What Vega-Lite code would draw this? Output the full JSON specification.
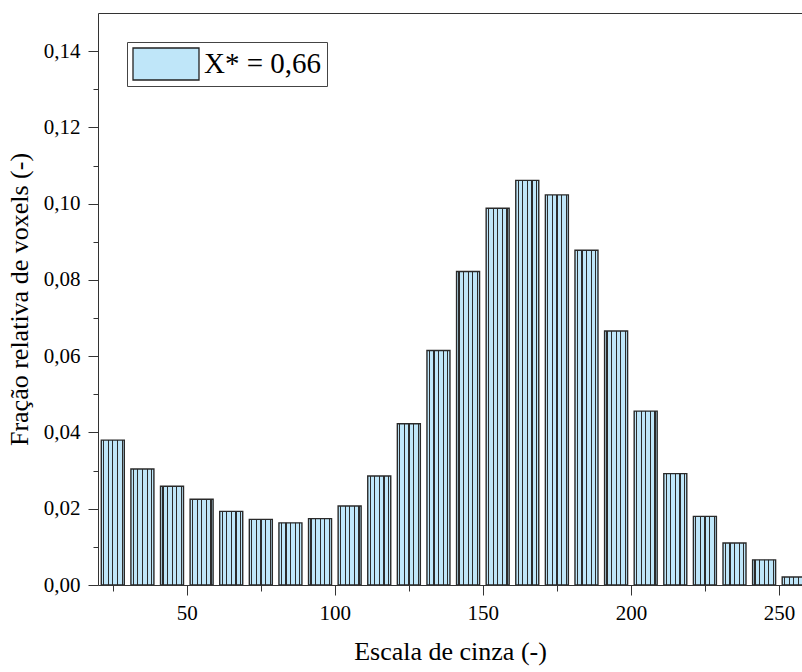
{
  "$schema": "https://vega.github.io/schema/vega-lite/v6.json",
  "autosize": {"type": "none"},
  "padding": {"left": 98, "top": 13, "right": 0, "bottom": 87},
  "width": 704,
  "height": 572,
  "background": "white",
  "config": {
    "view": {"stroke": null},
    "font": "Liberation Serif",
    "scale": {"continuousPadding": 0},
    "axis": {
      "labelFont": "Liberation Serif",
      "titleFont": "Liberation Serif",
      "labelColor": "#000",
      "titleColor": "#000",
      "titleFontWeight": "normal",
      "domainColor": "#333",
      "tickColor": "#333",
      "grid": false
    },
    "legend": {"labelFont": "Liberation Serif"}
  },
  "data": {
    "values": [
      {"cinza": 25, "fracao": 0.0380, "serie": "X* = 0,66"},
      {"cinza": 35, "fracao": 0.0304, "serie": "X* = 0,66"},
      {"cinza": 45, "fracao": 0.0259, "serie": "X* = 0,66"},
      {"cinza": 55, "fracao": 0.0225, "serie": "X* = 0,66"},
      {"cinza": 65, "fracao": 0.0193, "serie": "X* = 0,66"},
      {"cinza": 75, "fracao": 0.0172, "serie": "X* = 0,66"},
      {"cinza": 85, "fracao": 0.0163, "serie": "X* = 0,66"},
      {"cinza": 95, "fracao": 0.0174, "serie": "X* = 0,66"},
      {"cinza": 105, "fracao": 0.0207, "serie": "X* = 0,66"},
      {"cinza": 115, "fracao": 0.0286, "serie": "X* = 0,66"},
      {"cinza": 125, "fracao": 0.0423, "serie": "X* = 0,66"},
      {"cinza": 135, "fracao": 0.0615, "serie": "X* = 0,66"},
      {"cinza": 145, "fracao": 0.0822, "serie": "X* = 0,66"},
      {"cinza": 155, "fracao": 0.0988, "serie": "X* = 0,66"},
      {"cinza": 165, "fracao": 0.1061, "serie": "X* = 0,66"},
      {"cinza": 175, "fracao": 0.1023, "serie": "X* = 0,66"},
      {"cinza": 185, "fracao": 0.0878, "serie": "X* = 0,66"},
      {"cinza": 195, "fracao": 0.0666, "serie": "X* = 0,66"},
      {"cinza": 205, "fracao": 0.0456, "serie": "X* = 0,66"},
      {"cinza": 215, "fracao": 0.0292, "serie": "X* = 0,66"},
      {"cinza": 225, "fracao": 0.0180, "serie": "X* = 0,66"},
      {"cinza": 235, "fracao": 0.0110, "serie": "X* = 0,66"},
      {"cinza": 245, "fracao": 0.0066, "serie": "X* = 0,66"},
      {"cinza": 255, "fracao": 0.0021, "serie": "X* = 0,66"}
    ]
  },
  "resolve": {"axis": {"x": "independent"}},
  "layer": [
    {
      "mark": {
        "type": "bar", "size": 23, "stroke": "#2a2a2a", "strokeWidth": 1.4, "clip": true,
        "fill": {"gradient": "linear", "x1": 0, "y1": 0, "x2": 1, "y2": 0, "stops": [
          {"offset": 0, "color": "#bfe6f9"},
          {"offset": 0.08, "color": "#bfe6f9"}, {"offset": 0.08, "color": "#2b2b2b"},
          {"offset": 0.13, "color": "#2b2b2b"}, {"offset": 0.13, "color": "#bfe6f9"},
          {"offset": 0.28, "color": "#bfe6f9"}, {"offset": 0.28, "color": "#2b2b2b"},
          {"offset": 0.33, "color": "#2b2b2b"}, {"offset": 0.33, "color": "#bfe6f9"},
          {"offset": 0.48, "color": "#bfe6f9"}, {"offset": 0.48, "color": "#2b2b2b"},
          {"offset": 0.53, "color": "#2b2b2b"}, {"offset": 0.53, "color": "#bfe6f9"},
          {"offset": 0.68, "color": "#bfe6f9"}, {"offset": 0.68, "color": "#2b2b2b"},
          {"offset": 0.73, "color": "#2b2b2b"}, {"offset": 0.73, "color": "#bfe6f9"},
          {"offset": 0.88, "color": "#bfe6f9"}, {"offset": 0.88, "color": "#2b2b2b"},
          {"offset": 0.93, "color": "#2b2b2b"}, {"offset": 0.93, "color": "#bfe6f9"},
          {"offset": 1, "color": "#bfe6f9"}
        ]}
      },
      "encoding": {
        "x": {
          "field": "cinza", "type": "quantitative",
          "scale": {"domain": [20, 257.8], "nice": false, "zero": false, "padding": 0},
          "axis": {
            "orient": "bottom",
            "values": [25, 50, 75, 100, 125, 150, 175, 200, 225, 250],
            "labelExpr": "datum.value % 50 === 0 ? format(datum.value, 'd') : ''",
            "labelOverlap": false,
            "labelFlush": false,
            "labelFont": "Liberation Serif",
            "labelFontSize": 21,
            "labelPadding": 7,
            "tickSize": {"condition": {"test": "datum.value % 50 === 0", "value": 10}, "value": 6},
            "title": "Escala de cinza (-)",
            "titleFont": "Liberation Serif",
            "titleFontSize": 26,
            "titlePadding": 15
          }
        },
        "y": {
          "field": "fracao", "type": "quantitative",
          "scale": {"domain": [0, 0.15], "nice": false},
          "axis": {
            "values": [0, 0.01, 0.02, 0.03, 0.04, 0.05, 0.06, 0.07, 0.08, 0.09, 0.1, 0.11, 0.12, 0.13, 0.14],
            "labelExpr": "round(datum.value * 100) % 2 === 0 ? replace(format(datum.value, '.2f'), '.', ',') : ''",
            "labelOverlap": false,
            "labelFlush": false,
            "labelFont": "Liberation Serif",
            "labelFontSize": 21,
            "labelPadding": 8,
            "tickSize": {"condition": {"test": "round(datum.value * 100) % 2 === 0", "value": 10}, "value": 5},
            "title": "Fração relativa de voxels (-)",
            "titleFont": "Liberation Serif",
            "titleFontSize": 26,
            "titlePadding": 11
          }
        },
        "color": {
          "field": "serie", "type": "nominal",
          "scale": {"range": ["#bfe6f9"]},
          "legend": {
            "title": null,
            "orient": "none",
            "legendX": 29,
            "legendY": 29,
            "symbolType": "M-1,-0.485H1V0.485H-1Z",
            "symbolSize": 4356,
            "symbolStrokeColor": "#222",
            "symbolStrokeWidth": 1.3,
            "symbolOpacity": 1,
            "labelFont": "Liberation Serif",
            "labelFontSize": 29,
            "labelColor": "#000",
            "labelOffset": 4,
            "clipHeight": 34,
            "padding": 5,
            "strokeColor": "#444",
            "fillColor": "white",
            "encode": {
              "symbols": {"update": {
                "stroke": {"value": "#222"},
                "strokeWidth": {"value": 1.3},
                "fill": {"value": {"gradient": "linear", "x1": 0, "y1": 0, "x2": 1, "y2": 0, "stops": [
                {"offset": 0, "color": "#bfe6f9"},
                {"offset": 0.06, "color": "#bfe6f9"}, {"offset": 0.06, "color": "#2b2b2b"},
                {"offset": 0.08, "color": "#2b2b2b"}, {"offset": 0.08, "color": "#bfe6f9"},
                {"offset": 0.14, "color": "#bfe6f9"}, {"offset": 0.14, "color": "#2b2b2b"},
                {"offset": 0.16, "color": "#2b2b2b"}, {"offset": 0.16, "color": "#bfe6f9"},
                {"offset": 0.22, "color": "#bfe6f9"}, {"offset": 0.22, "color": "#2b2b2b"},
                {"offset": 0.24, "color": "#2b2b2b"}, {"offset": 0.24, "color": "#bfe6f9"},
                {"offset": 0.30, "color": "#bfe6f9"}, {"offset": 0.30, "color": "#2b2b2b"},
                {"offset": 0.32, "color": "#2b2b2b"}, {"offset": 0.32, "color": "#bfe6f9"},
                {"offset": 0.38, "color": "#bfe6f9"}, {"offset": 0.38, "color": "#2b2b2b"},
                {"offset": 0.40, "color": "#2b2b2b"}, {"offset": 0.40, "color": "#bfe6f9"},
                {"offset": 0.46, "color": "#bfe6f9"}, {"offset": 0.46, "color": "#2b2b2b"},
                {"offset": 0.48, "color": "#2b2b2b"}, {"offset": 0.48, "color": "#bfe6f9"},
                {"offset": 0.54, "color": "#bfe6f9"}, {"offset": 0.54, "color": "#2b2b2b"},
                {"offset": 0.56, "color": "#2b2b2b"}, {"offset": 0.56, "color": "#bfe6f9"},
                {"offset": 0.62, "color": "#bfe6f9"}, {"offset": 0.62, "color": "#2b2b2b"},
                {"offset": 0.64, "color": "#2b2b2b"}, {"offset": 0.64, "color": "#bfe6f9"},
                {"offset": 0.70, "color": "#bfe6f9"}, {"offset": 0.70, "color": "#2b2b2b"},
                {"offset": 0.72, "color": "#2b2b2b"}, {"offset": 0.72, "color": "#bfe6f9"},
                {"offset": 0.78, "color": "#bfe6f9"}, {"offset": 0.78, "color": "#2b2b2b"},
                {"offset": 0.80, "color": "#2b2b2b"}, {"offset": 0.80, "color": "#bfe6f9"},
                {"offset": 0.86, "color": "#bfe6f9"}, {"offset": 0.86, "color": "#2b2b2b"},
                {"offset": 0.88, "color": "#2b2b2b"}, {"offset": 0.88, "color": "#bfe6f9"},
                {"offset": 0.94, "color": "#bfe6f9"}, {"offset": 0.94, "color": "#2b2b2b"},
                {"offset": 0.96, "color": "#2b2b2b"}, {"offset": 0.96, "color": "#bfe6f9"},
                {"offset": 1, "color": "#bfe6f9"}
              ]}}}}
            }
          }
        }
      }
    },
    {
      "mark": {"type": "bar", "size": 23, "opacity": 0},
      "encoding": {
        "x": {
          "field": "cinza", "type": "quantitative",
          "axis": {"orient": "top", "ticks": false, "labels": false, "title": null, "domainColor": "#333"}
        },
        "y": {"field": "fracao", "type": "quantitative"}
      }
    }
  ]
}
